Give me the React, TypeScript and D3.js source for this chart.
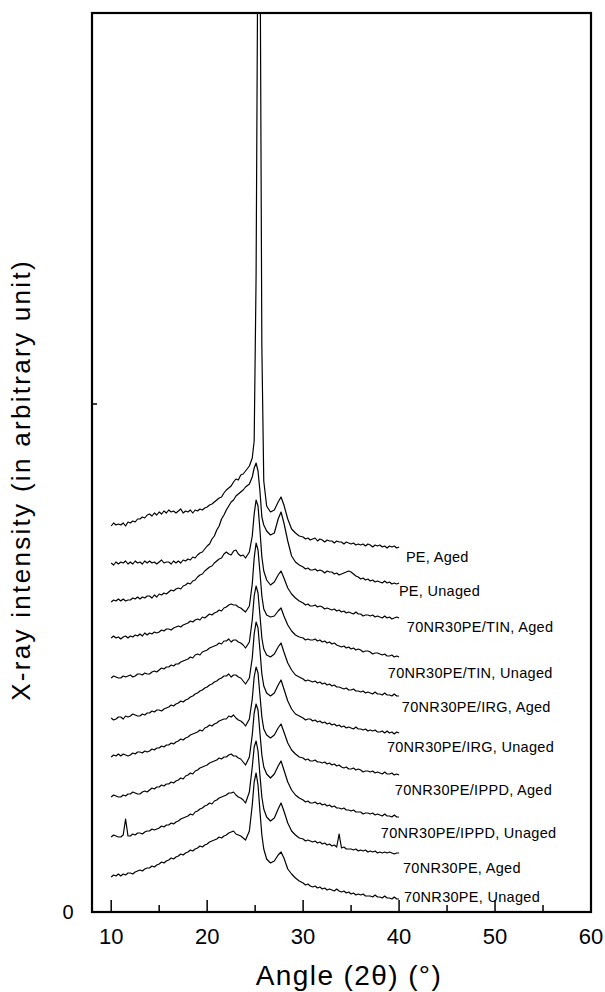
import React from "react";
import * as d3 from "d3";

// Shared angle grid (2θ, degrees)
const ANGLES = [
  10, 10.25, 10.5, 10.75, 11, 11.25, 11.5, 11.75, 12, 12.25, 12.5, 12.75,
  13, 13.25, 13.5, 13.75, 14, 14.25, 14.5, 14.75, 15, 15.25, 15.5, 15.75,
  16, 16.25, 16.5, 16.75, 17, 17.25, 17.5, 17.75, 18, 18.25, 18.5, 18.75,
  19, 19.25, 19.5, 19.75, 20, 20.25, 20.5, 20.75, 21, 21.25, 21.5, 21.75,
  22, 22.25, 22.5, 22.75, 23, 23.25, 23.5, 23.75, 24,
  24.4, 24.7, 24.9, 25.1, 25.3, 25.5, 25.7, 25.9,
  26.2, 26.6, 27.0, 27.4, 27.7, 28.0, 28.4, 28.8, 29.2, 29.6,
  30, 30.25, 30.5, 30.75, 31, 31.25, 31.5, 31.75, 32, 32.25, 32.5, 32.75,
  33, 33.25, 33.5, 33.75, 34, 34.25, 34.5, 34.75, 35, 35.25, 35.5, 35.75,
  36, 36.25, 36.5, 36.75, 37, 37.25, 37.5, 37.75, 38, 38.25, 38.5, 38.75,
  39, 39.25, 39.5, 39.75, 40,
];

// Vertical stacking offsets of each pattern (arbitrary units)
const OFFSETS = [386, 349, 310, 274, 234, 194, 155, 115, 75, 35];

// Intensities relative to each pattern's own offset
const PE_AGED = [
  0, 3, 1, 2, 1, 3, 0, 4, 3, 5, 4, 7,
  7, 9, 8, 11, 12, 10, 13, 11, 14, 12, 15, 13,
  16, 14, 15, 13, 15, 17, 13, 15, 14, 16, 13, 16,
  15, 17, 16, 18, 19, 21, 22, 24, 26, 28, 29, 33,
  36, 38, 40, 44, 47, 46, 51, 52, 55,
  60, 68, 85, 250, 620, 620, 180, 45,
  20, 14, 16, 24, 29, 21, 7, -3, -7, -10,
  -11, -13, -12, -14, -13, -12, -15, -13, -14, -16, -14, -15,
  -15, -17, -15, -16, -16, -18, -16, -17, -18, -17, -19, -18,
  -19, -18, -20, -18, -19, -21, -19, -20, -19, -21, -20, -22,
  -20, -21, -20, -22, -21,
];
const PE_UNAGED = [
  0, -2, 1, -1, 1, 0, 2, -1, 1, -1, 2, 0,
  1, -1, 2, 0, 2, 0, 1, -1, 1, 3, 0, 1,
  1, -1, 2, 0, 2, 0, 3, 2, 4, 3, 6, 5,
  8, 10, 11, 14, 17, 19, 24, 27, 33, 37, 44, 48,
  53, 57, 61, 63, 67, 69, 71, 73, 76,
  79, 86, 95, 100, 92, 72, 46, 38,
  32, 28, 30, 44, 51, 40, 22, 7, 1, -2,
  -4, -6, -5, -7, -7, -6, -8, -7, -8, -10, -8, -9,
  -9, -11, -10, -12, -11, -10, -9, -8, -9, -11, -13, -14,
  -16, -15, -17, -16, -18, -17, -19, -18, -19, -20, -18, -20,
  -19, -21, -20, -21, -20,
];
const TIN_AGED = [
  0, 2, 1, 3, 1, 3, 1, 2, 2, 4, 3, 5,
  3, 5, 4, 6, 6, 4, 7, 5, 8, 7, 9, 8,
  10, 12, 11, 13, 14, 13, 16, 17, 19, 18, 21, 22,
  25, 27, 28, 31, 33, 35, 36, 39, 41, 43, 44, 48,
  50, 48, 47, 51, 52, 48, 46, 47, 44,
  50, 66, 88, 102, 96, 72, 45, 31,
  22, 17, 20, 27, 31, 24, 14, 8, 4, 1,
  -1, -3, -2, -4, -4, -3, -5, -4, -5, -7, -6, -7,
  -8, -7, -9, -8, -10, -9, -11, -10, -11, -12, -10, -12,
  -12, -14, -13, -13, -14, -13, -15, -14, -15, -16, -14, -16,
  -15, -17, -16, -15, -16,
];
const TIN_UNAGED = [
  0, 2, 0, 1, -1, 1, 2, 0, 2, 1, 3, 2,
  4, 2, 5, 3, 5, 4, 6, 5, 6, 8, 7, 9,
  9, 8, 10, 11, 12, 11, 13, 14, 15, 17, 16, 18,
  19, 18, 21, 20, 22, 24, 23, 25, 26, 28, 27, 30,
  31, 33, 34, 33, 33, 31, 30, 28, 26,
  32, 54, 80, 95, 88, 66, 42, 29,
  23, 21, 22, 27, 30, 22, 13, 7, 3, 1,
  0, -2, -1, -2, -2, -1, -3, -2, -4, -3, -5, -4,
  -6, -5, -7, -8, -9, -8, -10, -9, -11, -10, -12, -11,
  -12, -14, -13, -13, -14, -16, -15, -15, -16, -17, -16, -18,
  -18, -17, -19, -18, -19,
];
const IRG_AGED = [
  0, 2, 1, 0, 0, 2, 1, 2, 3, 1, 2, 4,
  4, 3, 5, 4, 4, 6, 7, 6, 8, 10, 9, 11,
  11, 13, 12, 14, 14, 16, 17, 18, 19, 21, 20, 23,
  24, 23, 26, 27, 28, 30, 31, 32, 33, 35, 34, 37,
  37, 39, 36, 38, 38, 36, 35, 33, 30,
  36, 58, 82, 92, 85, 63, 40, 29,
  23, 21, 24, 31, 35, 26, 15, 8, 3, 1,
  -1, -3, -2, -3, -4, -3, -5, -4, -6, -5, -7, -6,
  -8, -7, -9, -9, -10, -11, -10, -12, -12, -11, -13, -13,
  -14, -13, -15, -14, -15, -16, -14, -16, -16, -17, -15, -17,
  -17, -18, -16, -18, -18,
];
const IRG_UNAGED = [
  0, -2, -1, 1, 1, -1, 2, 1, 2, 4, 3, 2,
  2, 4, 3, 5, 5, 7, 6, 8, 8, 7, 9, 10,
  11, 13, 12, 14, 15, 17, 16, 18, 19, 21, 22, 24,
  25, 27, 28, 30, 31, 33, 34, 36, 37, 39, 40, 42,
  42, 44, 41, 43, 43, 41, 40, 37, 34,
  40, 60, 84, 96, 90, 68, 44, 32,
  25, 22, 25, 33, 38, 29, 17, 9, 4, 2,
  0, -2, -1, -1, -3, -2, -4, -3, -5, -4, -6, -5,
  -7, -6, -8, -7, -9, -8, -10, -9, -10, -11, -9, -11,
  -11, -12, -11, -13, -12, -13, -12, -14, -14, -13, -15, -13,
  -15, -14, -16, -14, -15,
];
const IPPD_AGED = [
  0, 2, 1, 3, 1, 3, 2, 1, 2, 4, 3, 5,
  5, 4, 6, 5, 6, 8, 7, 9, 9, 11, 10, 12,
  12, 14, 13, 15, 16, 18, 17, 19, 20, 22, 23, 24,
  25, 27, 26, 29, 30, 32, 31, 33, 34, 36, 37, 38,
  38, 41, 40, 42, 39, 37, 36, 34, 31,
  38, 58, 80, 90, 84, 62, 40, 28,
  22, 19, 22, 29, 33, 25, 14, 7, 3, 0,
  -1, -3, -2, -4, -4, -3, -5, -5, -6, -5, -7, -6,
  -8, -7, -9, -8, -10, -11, -10, -12, -12, -11, -13, -12,
  -13, -15, -14, -14, -15, -14, -16, -15, -16, -17, -15, -17,
  -17, -16, -18, -17, -18,
];
const IPPD_UNAGED = [
  0, 2, 1, 0, 0, 2, 1, 3, 3, 5, 4, 3,
  3, 5, 6, 5, 7, 9, 8, 10, 10, 12, 11, 13,
  13, 15, 14, 16, 17, 19, 18, 21, 22, 24, 23, 26,
  27, 29, 30, 31, 32, 34, 35, 36, 37, 39, 38, 40,
  40, 42, 43, 41, 41, 39, 38, 35, 32,
  40, 62, 84, 93, 87, 64, 42, 30,
  23, 19, 23, 31, 36, 27, 15, 7, 2, -1,
  -3, -5, -4, -6, -6, -5, -7, -6, -8, -7, -9, -8,
  -10, -9, -11, -11, -12, -11, -13, -13, -14, -13, -15, -15,
  -15, -17, -16, -16, -17, -16, -18, -17, -18, -19, -17, -19,
  -19, -20, -18, -20, -20,
];
const NR_AGED = [
  0, 2, 1, 0, 0, 2, 18, 1, 1, 3, 2, 4,
  4, 3, 5, 6, 6, 8, 7, 8, 9, 11, 10, 12,
  12, 14, 13, 15, 16, 18, 19, 20, 21, 23, 22, 25,
  26, 28, 29, 31, 32, 34, 33, 36, 37, 39, 40, 41,
  42, 44, 44, 45, 42, 40, 39, 37, 34,
  45, 70, 90, 96, 86, 62, 40, 28,
  20, 16, 19, 28, 34, 26, 14, 6, 2, -1,
  -2, -4, -3, -4, -5, -4, -6, -5, -7, -6, -8, -7,
  -9, -8, -10, 3, -11, -10, -12, -12, -12, -13, -12, -14,
  -13, -14, -13, -15, -14, -15, -14, -16, -15, -16, -15, -16,
  -15, -16, -17, -16, -16,
];
const NR_UNAGED = [
  0, 2, 1, 3, 1, 3, 2, 4, 4, 3, 5, 6,
  7, 6, 8, 9, 9, 11, 10, 12, 13, 15, 14, 16,
  17, 19, 18, 20, 21, 23, 22, 24, 25, 27, 26, 28,
  29, 31, 30, 32, 33, 35, 36, 37, 38, 40, 39, 41,
  42, 44, 45, 46, 43, 42, 41, 39, 37,
  46, 72, 95, 104, 92, 66, 42, 28,
  18, 14, 16, 22, 25, 19, 8, 3, -1, -4,
  -6, -8, -7, -9, -10, -9, -11, -10, -12, -11, -13, -12,
  -13, -14, -12, -14, -15, -14, -16, -15, -17, -16, -18, -17,
  -18, -17, -19, -19, -19, -20, -18, -20, -20, -21, -19, -21,
  -21, -22, -20, -22, -22,
];

const SERIES = [
  PE_AGED, PE_UNAGED, TIN_AGED, TIN_UNAGED, IRG_AGED,
  IRG_UNAGED, IPPD_AGED, IPPD_UNAGED, NR_AGED, NR_UNAGED,
];

const LABELS = [
  "PE, Aged",
  "PE, Unaged",
  "70NR30PE/TIN, Aged",
  "70NR30PE/TIN, Unaged",
  "70NR30PE/IRG, Aged",
  "70NR30PE/IRG, Unaged",
  "70NR30PE/IPPD, Aged",
  "70NR30PE/IPPD, Unaged",
  "70NR30PE, Aged",
  "70NR30PE, Unaged",
];
// label anchor (left edge angle, vertical centre value)
const LABEL_ANGLE = [40.71, 39.98, 40.81, 38.83, 40.29, 38.73, 39.56, 38.1, 40.4, 40.5];
const LABEL_VALUE = [355, 321, 285, 239, 205, 165, 122, 79, 44, 15];

const X_MAJOR = [10, 20, 30, 40, 50, 60];
const X_MINOR = [15, 25, 35, 45, 55];
const Y_TICKS = [508];

const FONT = "'Liberation Sans', Arial, Helvetica, sans-serif";

export default function App() {
  const W = 605, H = 992;
  const left = 92, right = 591, top = 13, bottom = 912;
  const x = d3.scaleLinear().domain([8, 60]).range([left, right]);
  const y = d3.scaleLinear().domain([0, 899]).range([bottom, top]);
  const line = d3
    .line<[number, number]>()
    .x((d) => x(d[0]))
    .y((d) => y(d[1]));

  return (
    <svg
      width={W}
      height={H}
      style={{ position: "absolute", left: 0, top: 0, background: "#fff" }}
      fontFamily={FONT}
    >
      <defs>
        <clipPath id="plotClip">
          <rect x={left} y={top} width={right - left} height={bottom - top} />
        </clipPath>
      </defs>
      <rect x={0} y={0} width={W} height={H} fill="#fff" />
      <g clipPath="url(#plotClip)">
        {SERIES.map((s, i) => {
          const n = Math.min(s.length, ANGLES.length);
          const pts: [number, number][] = [];
          for (let j = 0; j < n; j++) pts.push([ANGLES[j], OFFSETS[i] + s[j]]);
          return (
            <path
              key={i}
              d={line(pts) || ""}
              fill="none"
              stroke="#000"
              strokeWidth={1.2}
              strokeLinejoin="round"
            />
          );
        })}
      </g>
      {LABELS.map((t, i) => (
        <text
          key={t}
          x={x(LABEL_ANGLE[i])}
          y={y(LABEL_VALUE[i]) + 5}
          fontSize={14.5}
          letterSpacing={0.3}
          fill="#000"
        >
          {t}
        </text>
      ))}
      <rect
        x={left}
        y={top}
        width={right - left}
        height={bottom - top}
        fill="none"
        stroke="#000"
        strokeWidth={2.2}
      />
      {X_MAJOR.filter((t) => t < 60).map((t) => (
        <line key={"M" + t} x1={x(t)} x2={x(t)} y1={bottom} y2={bottom - 12} stroke="#000" strokeWidth={1.5} />
      ))}
      {X_MINOR.map((t) => (
        <line key={"m" + t} x1={x(t)} x2={x(t)} y1={bottom} y2={bottom - 7} stroke="#000" strokeWidth={1.5} />
      ))}
      {X_MAJOR.map((t) => (
        <text key={"l" + t} x={x(t)} y={944} textAnchor="middle" fontSize={22} fill="#000">
          {t}
        </text>
      ))}
      {Y_TICKS.map((t) => (
        <line key={"y" + t} x1={left} x2={left + 5} y1={y(t)} y2={y(t)} stroke="#000" strokeWidth={1.5} />
      ))}
      <text x={68} y={y(0) + 7} textAnchor="middle" fontSize={20} fill="#000">
        0
      </text>
      <text x={349} y={985} textAnchor="middle" fontSize={28} letterSpacing={1.4} fill="#000">
        Angle (2θ) (°)
      </text>
      <text
        transform={`translate(30, 480) rotate(-90)`}
        textAnchor="middle"
        fontSize={26}
        letterSpacing={2.3}
        fill="#000"
      >
        X-ray intensity (in arbitrary unit)
      </text>
    </svg>
  );
}
